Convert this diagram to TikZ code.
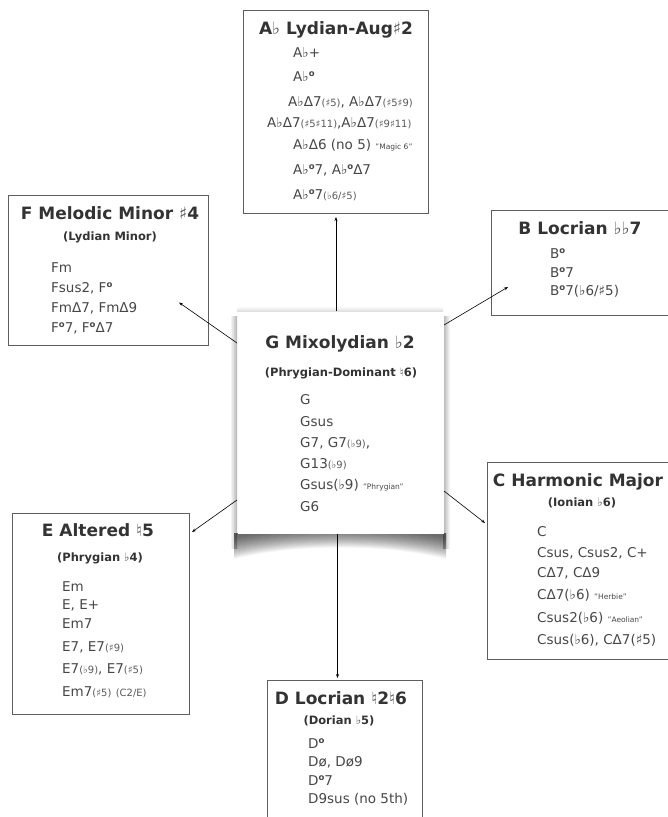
\documentclass[tikz,border=0pt]{standalone}
\usepackage{fontspec}
\setmainfont{DejaVu Sans}
\usetikzlibrary{arrows.meta}
\definecolor{txt}{HTML}{474747}
\definecolor{ttl}{HTML}{333333}
\definecolor{soft}{HTML}{5A5A5A}
\definecolor{frame}{HTML}{5E5E5E}
% small parenthetical alterations, nicknames, diminished circle, light accidentals in titles
\newcommand\sm[1]{{\fontsize{10}{10}\selectfont\color{soft}#1}}
\newcommand\qt[1]{{\fontsize{7.5}{8}\selectfont"#1"}}
\newcommand\dg{\raisebox{0.62ex}{\fontsize{8.5}{8.5}\selectfont\bfseries o}}
\newcommand\acc[1]{{\mdseries\color{soft}#1}}
\begin{document}
\begin{tikzpicture}[x=1pt,y=-1pt,
  panel/.style={draw=frame, line width=1pt, fill=white, inner sep=0pt, anchor=north west},
  head/.style={font=\fontsize{17}{17}\selectfont\bfseries, text=ttl, inner sep=0pt, anchor=base},
  subhead/.style={font=\fontsize{11.5}{12}\selectfont\bfseries, text=ttl, inner sep=0pt, anchor=base},
  chord/.style={font=\fontsize{13.5}{14}\selectfont, text=txt, inner sep=0pt, anchor=base west},
  link/.style={-{Stealth[length=4pt,width=3pt]}, line width=0.6pt, draw=black}]
\useasboundingbox (0,0) rectangle (668,817);
\fill[white] (0,0) rectangle (668,817);

% ---- soft shadow of the central card ----
\shade[left color=white, right color=black!30] (230,316) rectangle (237,548);
\shade[left color=black!30, right color=white] (443,316) rectangle (450,548);
\shade[top color=white, bottom color=black!12] (237,306) rectangle (443,311);
% curled lower edge: stacked translucent layers give a blurred rim
\foreach \i in {0,...,21}{
  \fill[black, opacity=0.035] (234,533) -- (234,{538+\i}) .. controls (295,{527+0.8*\i}) and (385,{527+0.8*\i}) .. (446,{538+\i}) -- (446,533) -- cycle;
}

% ---- cards ----
\node[panel, draw=none, minimum width=206pt, minimum height=222pt] (G) at (237,311) {};
\node[panel, minimum width=185pt, minimum height=203pt] (Ab) at (243,10) {};
\node[panel, minimum width=200pt, minimum height=150pt] (F) at (8,195) {};
\node[panel, minimum width=190pt, minimum height=105pt] (B) at (491,210) {};
\node[panel, minimum width=190pt, minimum height=197pt] (C) at (487,462) {};
\node[panel, minimum width=177pt, minimum height=201pt] (E) at (12,513) {};
\node[panel, minimum width=155pt, minimum height=160pt] (D) at (267,680) {};

% ---- connectors ----
\draw[link] (Ab.south |- G.north) -- ([yshift=-3pt]Ab.south);
\draw[link] ([yshift=-32pt]G.north west) -- ([xshift=-30pt,yshift=-32pt]F.east);
\draw[link] ([yshift=-14pt]G.north east) -- ([xshift=17pt,yshift=-77pt]B.north west);
\draw[link] ([yshift=34pt]G.south west) -- ([xshift=2pt,yshift=-19pt]E.north east);
\draw[link] ([yshift=43pt]G.south east) -- ([xshift=-2pt,yshift=-61pt]C.north west);
\draw[link] ([xshift=-3pt]G.south) -- ([xshift=-3pt,yshift=2pt]G.south |- D.north);

% ---- G ----
\node[head] (Gt) at (340,348) {G Mixolydian \acc{♭}2};
\node[subhead] (Gs) at (341,376) {(Phrygian-Dominant \acc{♮}6)};
\node[chord] (G1) at (300,404.5) {G};
\node[chord] (G2) at (300,426.5) {Gsus};
\node[chord] (G3) at (300,447.5) {G7, G7\sm{(♭9)},};
\node[chord] (G4) at (300,468.5) {G13\sm{(♭9)}};
\node[chord] (G5) at (300,489.5) {Gsus(♭9) \qt{Phrygian}};
\node[chord] (G6) at (300,511.5) {G6};

% ---- Ab ----
\node[head] (Abt) at (336,34) {A\acc{♭} Lydian-Aug\acc{♯}2};
\node[chord] (Ab1) at (293,57.5) {A♭+};
\node[chord] (Ab2) at (293,81.5) {A♭\dg};
\node[chord] (Ab3) at (288,106.5) {A♭Δ7\sm{(♯5)}, A♭Δ7\sm{(♯5♯9)}};
\node[chord] (Ab4) at (267,127.5) {A♭Δ7\sm{(♯5♯11)},A♭Δ7\sm{(♯9♯11)}};
\node[chord] (Ab5) at (293,149.5) {A♭Δ6 (no 5) \qt{Magic 6}};
\node[chord] (Ab6) at (293,174.5) {A♭\dg7, A♭\dg Δ7};
\node[chord] (Ab7) at (293,199.5) {A♭\dg7\sm{(♭6/♯5)}};

% ---- F ----
\node[head] (Ft) at (110,219) {F Melodic Minor \acc{♯}4};
\node[subhead] (Fs) at (110,240) {(Lydian Minor)};
\node[chord] (F1) at (51,272.5) {Fm};
\node[chord] (F2) at (51,292) {Fsus2, F\dg};
\node[chord] (F3) at (51,312) {FmΔ7, FmΔ9};
\node[chord] (F4) at (51,332) {F\dg7, F\dg Δ7};

% ---- B ----
\node[head] (Bt) at (580,234) {B Locrian \acc{♭♭}7};
\node[chord] (B1) at (550,258) {B\dg};
\node[chord] (B2) at (550,277) {B\dg7};
\node[chord] (B3) at (550,295) {B\dg7(♭6/♯5)};

% ---- C ----
\node[head] (Ct) at (578,486) {C Harmonic Major};
\node[subhead] (Cs) at (582,506) {(Ionian \acc{♭}6)};
\node[chord] (C1) at (537,536.5) {C};
\node[chord] (C2) at (537,557.5) {Csus, Csus2, C+};
\node[chord] (C3) at (537,577.5) {CΔ7, CΔ9};
\node[chord] (C4) at (537,599.5) {CΔ7(♭6) \qt{Herbie}};
\node[chord] (C5) at (537,622.5) {Csus2(♭6) \qt{Aeolian}};
\node[chord] (C6) at (537,644.5) {Csus(♭6), CΔ7(♯5)};

% ---- E ----
\node[head] (Et) at (98,536) {E Altered \acc{♮}5};
\node[subhead] (Es) at (100,561) {(Phrygian \acc{♭}4)};
\node[chord] (E1) at (62,591.5) {Em};
\node[chord] (E2) at (62,609.5) {E, E+};
\node[chord] (E3) at (62,628.5) {Em7};
\node[chord] (E4) at (62,651.5) {E7, E7\sm{(♯9)}};
\node[chord] (E5) at (62,673.5) {E7\sm{(♭9)}, E7\sm{(♯5)}};
\node[chord] (E6) at (62,696.5) {Em7\sm{(♯5)} \sm{(C2/E)}};

% ---- D ----
\node[head] (Dt) at (341,704) {D Locrian \acc{♮}2\acc{♮}6};
\node[subhead] (Ds) at (339,724) {(Dorian \acc{♭}5)};
\node[chord] (D1) at (308,748) {D\dg};
\node[chord] (D2) at (308,766) {Dø, Dø9};
\node[chord] (D3) at (308,785) {D\dg7};
\node[chord] (D4) at (308,803) {D9sus (no 5th)};
\end{tikzpicture}
\end{document}
